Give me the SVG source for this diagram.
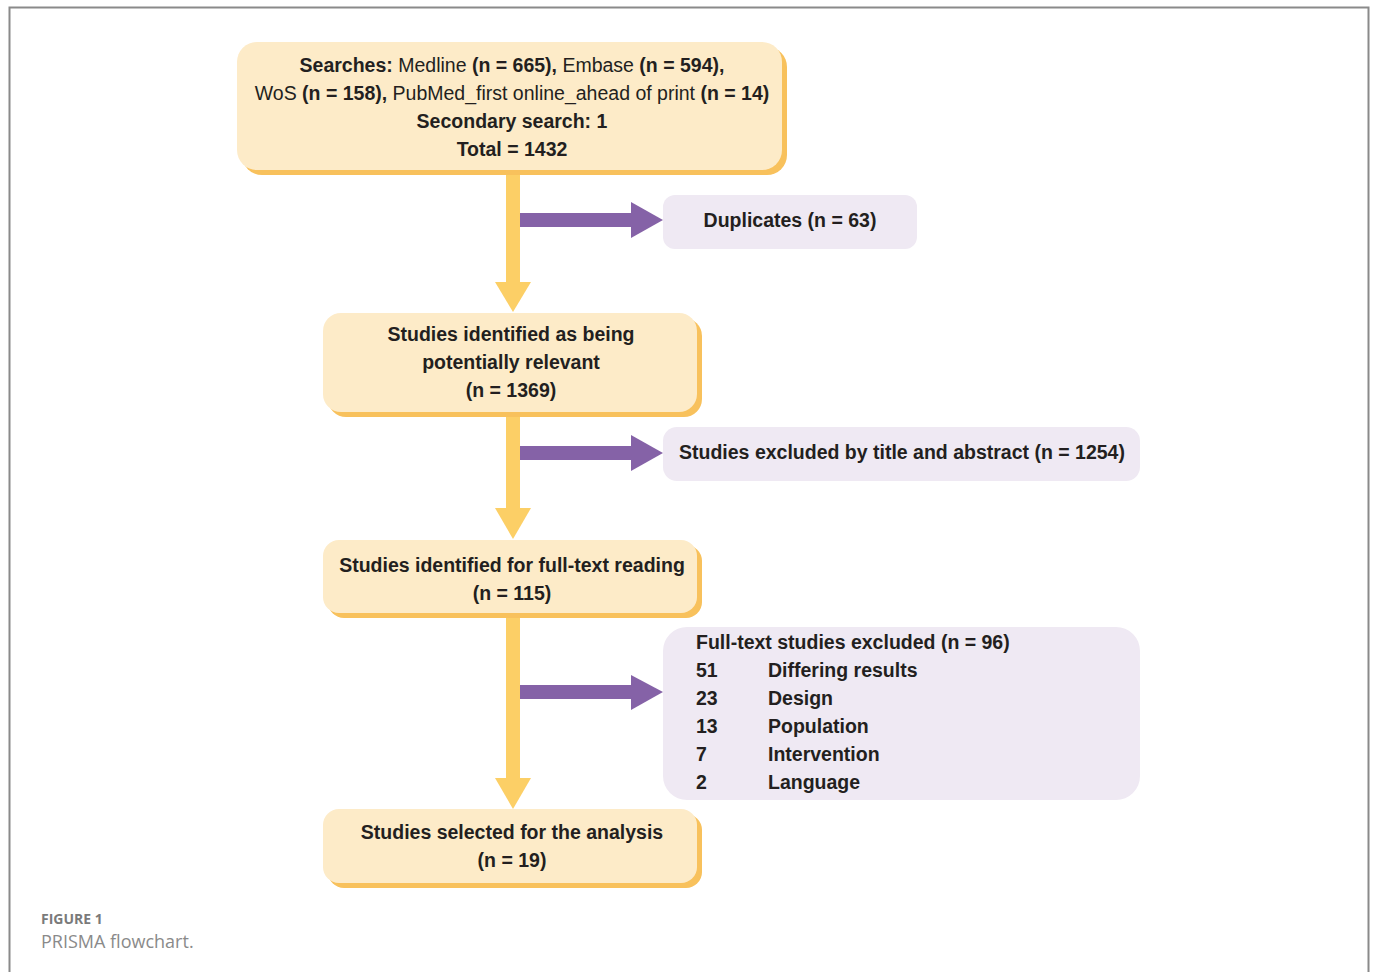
<svg xmlns="http://www.w3.org/2000/svg" width="1375" height="972" viewBox="0 0 1375 972">
<defs>
<style>
.box{fill:#FDEBC8}
.sh{fill:#F8C15C}
.pbox{fill:#EFE9F3}
.t{font-family:"Liberation Sans",Arial,sans-serif;font-size:19.5px;font-weight:bold;fill:#231F20}
.n{font-weight:normal}
.c{text-anchor:middle}
.y{fill:#FCCF66}
.p{fill:#8562A7}
.cap1{font-family:"Open Sans",sans-serif;font-size:14px;font-weight:bold;fill:#7a7a7a}
.cap2{font-family:"Open Sans",sans-serif;font-size:18px;fill:#8a8a8a}
</style>
</defs>
<rect x="0" y="0" width="1375" height="972" fill="#fff"/>
<path d="M9.5 972 V7.5 H1368.5 V972" fill="none" stroke="#8a8a8a" stroke-width="2"/>

<g id="connectors">
<rect class="y" x="506" y="170" width="14" height="114"/>
<polygon class="y" points="495,282 531,282 513,312"/>
<rect class="p" x="520" y="213" width="112" height="14"/>
<polygon class="p" points="631,202 663,220 631,238"/>

<rect class="y" x="506" y="412" width="14" height="98"/>
<polygon class="y" points="495,508 531,508 513,539"/>
<rect class="p" x="520" y="446" width="112" height="14"/>
<polygon class="p" points="631,435 663,453 631,471"/>

<rect class="y" x="506" y="613" width="14" height="167"/>
<polygon class="y" points="495,778 531,778 513,809"/>
<rect class="p" x="520" y="685" width="112" height="14"/>
<polygon class="p" points="631,675 663,692 631,710"/>
</g>

<g id="searches">
<rect class="sh" x="242" y="47" width="545" height="128" rx="20"/>
<rect class="box" x="237" y="42" width="545" height="128" rx="20"/>
<text class="t c" x="512" y="72">Searches:<tspan class="n"> Medline </tspan>(n = 665),<tspan class="n"> Embase </tspan>(n = 594),</text>
<text class="t c" x="512" y="100"><tspan class="n">WoS </tspan>(n = 158),<tspan class="n"> PubMed_first online_ahead of print </tspan>(n = 14)</text>
<text class="t c" x="512" y="128">Secondary search: 1</text>
<text class="t c" x="512" y="156">Total = 1432</text>
</g>

<g id="duplicates">
<rect class="pbox" x="663" y="195" width="254" height="54" rx="12"/>
<text class="t c" x="790" y="227">Duplicates (n = 63)</text>
</g>

<g id="relevant">
<rect class="sh" x="328" y="318" width="374" height="99" rx="18"/>
<rect class="box" x="323" y="313" width="374" height="99" rx="18"/>
<text class="t c" x="511" y="341">Studies identified as being</text>
<text class="t c" x="511" y="369">potentially relevant</text>
<text class="t c" x="511" y="397">(n = 1369)</text>
</g>

<g id="excluded-title">
<rect class="pbox" x="663" y="427" width="477" height="54" rx="14"/>
<text class="t c" x="902" y="459">Studies excluded by title and abstract (n = 1254)</text>
</g>

<g id="fulltext">
<rect class="sh" x="328" y="545" width="374" height="73" rx="16"/>
<rect class="box" x="323" y="540" width="374" height="73" rx="16"/>
<text class="t c" x="512" y="572">Studies identified for full-text reading</text>
<text class="t c" x="512" y="600">(n = 115)</text>
</g>

<g id="fulltext-excluded">
<rect class="pbox" x="663" y="627" width="477" height="173" rx="24"/>
<text class="t" x="696" y="649">Full-text studies excluded (n = 96)</text>
<text class="t" x="696" y="677">51</text><text class="t" x="768" y="677">Differing results</text>
<text class="t" x="696" y="705">23</text><text class="t" x="768" y="705">Design</text>
<text class="t" x="696" y="733">13</text><text class="t" x="768" y="733">Population</text>
<text class="t" x="696" y="761">7</text><text class="t" x="768" y="761">Intervention</text>
<text class="t" x="696" y="789">2</text><text class="t" x="768" y="789">Language</text>
</g>

<g id="selected">
<rect class="sh" x="328" y="814" width="374" height="74" rx="16"/>
<rect class="box" x="323" y="809" width="374" height="74" rx="16"/>
<text class="t c" x="512" y="839">Studies selected for the analysis</text>
<text class="t c" x="512" y="867">(n = 19)</text>
</g>

<g id="caption">
<text class="cap1" x="41" y="924">FIGURE 1</text>
<text class="cap2" x="41" y="948">PRISMA flowchart.</text>
</g>
</svg>
